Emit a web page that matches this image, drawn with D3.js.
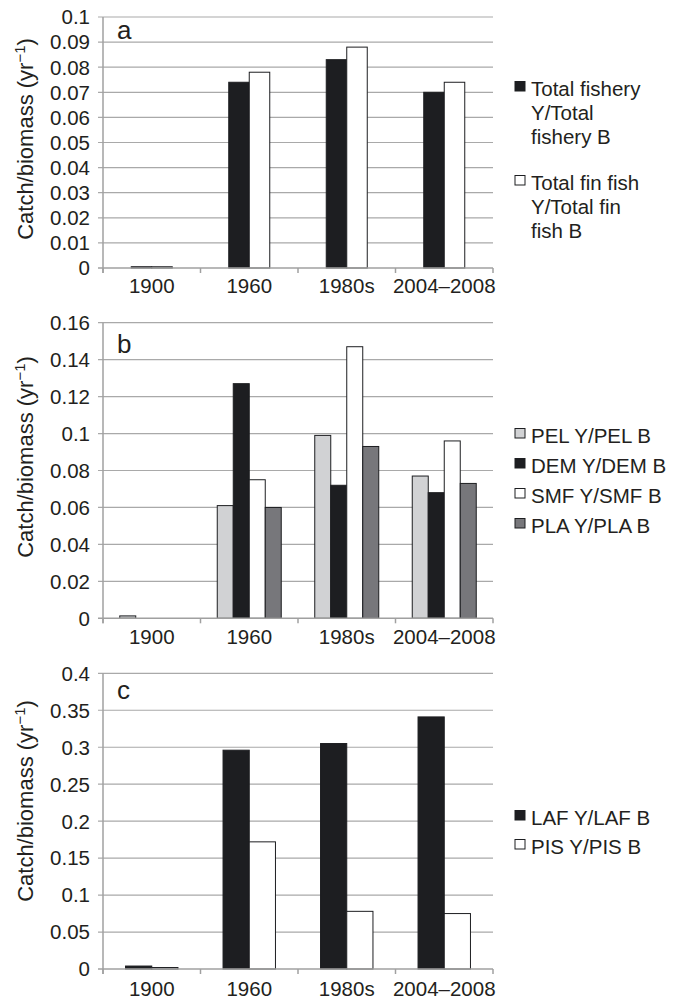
<!DOCTYPE html>
<html><head><meta charset="utf-8">
<script src="https://cdn.jsdelivr.net/npm/d3@7"></script>
<style>
body{margin:0;background:#fff;}
text{font-family:"Liberation Sans",Arial,Helvetica,sans-serif;fill:#231f20;}
</style></head>
<body>
<svg id="chart" width="675" height="1001"></svg>
<script>
const categories = ["1900", "1960", "1980s", "2004\u20132008"];

// Panel a
const aSeries = ["Total fishery Y/Total fishery B", "Total fin fish Y/Total fin fish B"];
const aTotalFishery = [0.0005, 0.074, 0.083, 0.070];
const aTotalFinFish = [0.0005, 0.078, 0.088, 0.074];
const aTicks = [0, 0.01, 0.02, 0.03, 0.04, 0.05, 0.06, 0.07, 0.08, 0.09, 0.1];
const aLegend = [["Total fishery", "Y/Total", "fishery B"], ["Total fin fish", "Y/Total fin", "fish B"]];

// Panel b
const bSeries = ["PEL Y/PEL B", "DEM Y/DEM B", "SMF Y/SMF B", "PLA Y/PLA B"];
const bPEL = [0.0013, 0.061, 0.099, 0.077];
const bDEM = [0, 0.127, 0.072, 0.068];
const bSMF = [0, 0.075, 0.147, 0.096];
const bPLA = [0, 0.060, 0.093, 0.073];
const bTicks = [0, 0.02, 0.04, 0.06, 0.08, 0.1, 0.12, 0.14, 0.16];

// Panel c
const cSeries = ["LAF Y/LAF B", "PIS Y/PIS B"];
const cLAF = [0.004, 0.296, 0.305, 0.341];
const cPIS = [0.002, 0.172, 0.078, 0.075];
const cTicks = [0, 0.05, 0.1, 0.15, 0.2, 0.25, 0.3, 0.35, 0.4];

const BLACK = "#1d1e21", LIGHT = "#d1d2d4", DARK = "#77777b", WHITE = "#ffffff";
const GRID = "#a9a9a9", AXIS = "#a0a0a0";
const FS = 20.5;

const svg = d3.select("#chart");
const X0 = 103, X1 = 493;
const x = d3.scaleBand().domain(categories).range([X0, X1]).paddingInner(0).paddingOuter(0);

function panel(cfg) {
  const g = svg.append("g");
  const y = d3.scaleLinear().domain(cfg.domain).range([cfg.bottom, cfg.top]);
  g.selectAll("line.grid").data(cfg.ticks.filter(t => t > 0)).join("line")
    .attr("x1", X0 - 5).attr("x2", X1).attr("y1", d => y(d)).attr("y2", d => y(d))
    .attr("stroke", GRID).attr("stroke-width", 1.2);
  g.selectAll("text.yt").data(cfg.ticks).join("text")
    .attr("x", 90).attr("y", d => y(d)).attr("dy", "0.36em")
    .attr("text-anchor", "end").attr("font-size", FS)
    .text(d => String(+d.toFixed(3)));
  const sub = d3.scaleBand().domain(cfg.series).range([0, x.bandwidth()])
    .paddingInner(0).paddingOuter(cfg.outer);
  cfg.series.forEach((s, i) => {
    g.selectAll("rect.s" + i).data(cfg.values[i]).join("rect")
      .attr("x", (d, j) => x(categories[j]) + sub(s))
      .attr("width", sub.bandwidth())
      .attr("y", d => y(d))
      .attr("height", d => Math.max(0, y(0) - y(d)))
      .attr("fill", cfg.colors[i])
      .attr("stroke", d => d > 0 ? BLACK : "none").attr("stroke-width", 1);
  });
  g.append("line").attr("x1", X0).attr("x2", X0).attr("y1", y(cfg.domain[1])).attr("y2", y(0) + 5)
    .attr("stroke", AXIS).attr("stroke-width", 1.5);
  g.append("line").attr("x1", X0 - 5).attr("x2", X1).attr("y1", y(0)).attr("y2", y(0))
    .attr("stroke", AXIS).attr("stroke-width", 1.5);
  const bounds = categories.map(c => x(c)).concat([X1]);
  g.selectAll("line.xt").data(bounds).join("line")
    .attr("x1", d => d).attr("x2", d => d).attr("y1", y(0)).attr("y2", y(0) + 5)
    .attr("stroke", AXIS).attr("stroke-width", 1.5);
  g.selectAll("text.xl").data(categories).join("text")
    .attr("x", d => x(d) + x.bandwidth() / 2).attr("y", cfg.xlabY)
    .attr("text-anchor", "middle").attr("font-size", FS).text(d => d);
  g.append("text").attr("x", 117).attr("y", cfg.letterY).attr("font-size", 26).text(cfg.letter);
  const t = g.append("text").attr("transform", `translate(33,${cfg.titleY}) rotate(-90)`)
    .attr("text-anchor", "middle").attr("font-size", 22);
  t.append("tspan").text("Catch/biomass (yr");
  t.append("tspan").attr("font-size", 15).attr("dy", -8).text("\u22121");
  t.append("tspan").attr("dy", 8).text(")");
  cfg.legend.forEach((item, i) => {
    const by = cfg.legendY[i];
    g.append("rect").attr("x", 515).attr("y", by - 14.5).attr("width", 10).attr("height", 9.5)
      .attr("fill", cfg.colors[i]).attr("stroke", BLACK).attr("stroke-width", 1);
    item.forEach((line, k) => {
      g.append("text").attr("x", 531).attr("y", by + k * 24).attr("font-size", FS).text(line);
    });
  });
}

panel({
  domain: [0, 0.1], top: 17, bottom: 268, ticks: aTicks, series: aSeries,
  values: [aTotalFishery, aTotalFinFish], colors: [BLACK, WHITE], outer: 1.378,
  xlabY: 293, letter: "a", letterY: 39, titleY: 139,
  legend: aLegend, legendY: [96, 190]
});
panel({
  domain: [0, 0.16], top: 322.7, bottom: 618.3, ticks: bTicks, series: bSeries,
  values: [bPEL, bDEM, bSMF, bPLA], colors: [LIGHT, BLACK, WHITE, DARK], outer: 1.047,
  xlabY: 644, letter: "b", letterY: 353, titleY: 457,
  legend: bSeries.map(s => [s]), legendY: [443, 473, 503, 533]
});
panel({
  domain: [0, 0.4], top: 673.3, bottom: 969, ticks: cTicks, series: cSeries,
  values: [cLAF, cPIS], colors: [BLACK, WHITE], outer: 0.86,
  xlabY: 996, letter: "c", letterY: 699, titleY: 801,
  legend: cSeries.map(s => [s]), legendY: [825, 854]
});
</script>
</body></html>
